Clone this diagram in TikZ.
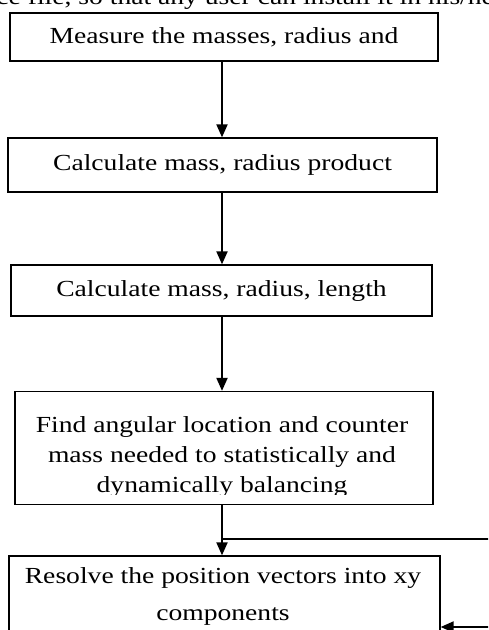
\documentclass[tikz,border=0pt]{standalone}
\usepackage{fontspec}
\setmainfont{Liberation Serif}[FakeStretch=1.2]
\usetikzlibrary{arrows.meta}
\tikzset{
  box/.style={draw=black, line width=1.3pt, fill=white, inner sep=0pt, align=center},
  lbl/.style={inner sep=0pt, align=center, font=\fontsize{23}{30}\selectfont},
  arr/.style={line width=2pt, -{Triangle[length=13pt,width=11pt]}},
  ln/.style={line width=2pt}
}
\begin{document}
\begin{tikzpicture}[x=1pt,y=-1pt]
\useasboundingbox (0,0) rectangle (488,630);
\clip (0,0) rectangle (488,630);
% cut-off line of text at the top
\node[inner sep=0pt, anchor=base west, font=\fontsize{23}{25}\selectfont] (top) at (-16,4) {ace file, so that any user can install it in his/her};
% boxes
\node[box, minimum width=428pt, minimum height=48pt] (b1) at (224,37) {};
\node[lbl] (t1) at (b1.center) {Measure the masses, radius and};
\node[box, minimum width=429pt, minimum height=54pt] (b2) at (222.5,165) {};
\node[lbl] (t2) at (b2.center) {Calculate mass, radius product};
\node[box, minimum width=421pt, minimum height=51pt] (b3) at (221.5,290.5) {};
\node[lbl] (t3) at (b3.center) {Calculate mass, radius, length};
\node[box, minimum width=418pt, minimum height=113pt] (b4) at (224,448) {};
\begin{scope}
\clip (b4.north west) rectangle (b4.east |- 0,494);
\node[lbl] (t4) at (222,457) {Find angular location and counter\\mass needed to statistically and\\dynamically balancing};
\end{scope}
\node[box, minimum width=431pt, minimum height=90pt] (b5) at (224.5,601) {};
\node[lbl, font=\fontsize{23}{37}\selectfont] (t5) at (223,596) {Resolve the position vectors into xy\\components};
% connectors
\draw[arr] (b1.south -| 222,0) -- (b2.north -| 222,0);
\draw[arr] (b2.south -| 222,0) -- (b3.north -| 222,0);
\draw[arr] (b3.south -| 222,0) -- (b4.north -| 222,0);
\draw[arr] (b4.south -| 222,0) -- (b5.north -| 222,0);
\coordinate (j) at (222,539);
\coordinate (r1) at (490,539);
\coordinate (r2) at (490,627);
\draw[ln] (j) -- (r1);
\draw[arr] (r2) -- (b5.east |- r2);
\end{tikzpicture}
\end{document}
